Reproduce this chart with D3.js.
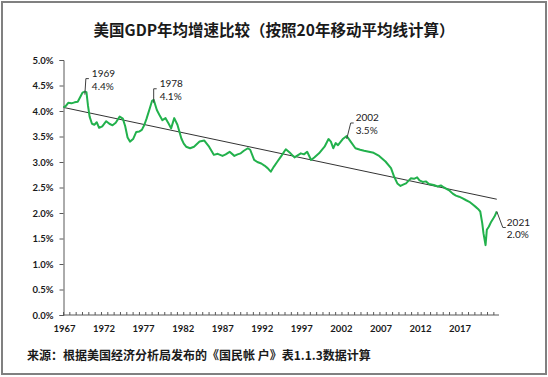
<!DOCTYPE html>
<html lang="zh">
<head>
<meta charset="UTF-8">
<title>美国GDP年均增速比较</title>
<script src="https://cdn.jsdelivr.net/npm/d3@7"></script>
<style>
  body { margin: 0; background: #fff; }
  svg text { fill: #1a1a1a; }
</style>
</head>
<body>
<script>
// 20年移动平均 GDP 年均增速（%）
const years = [1967.0,1967.3,1967.6,1968.0,1968.4,1968.8,1969.2,1969.4,1969.7,1969.9,1970.1,1970.3,1970.6,1970.9,1971.2,1971.5,1971.9,1972.4,1972.8,1973.2,1973.6,1974.1,1974.5,1974.8,1975.1,1975.4,1975.8,1976.2,1976.6,1976.9,1977.2,1977.5,1977.9,1978.2,1978.4,1978.8,1979.2,1979.5,1979.9,1980.3,1980.6,1981.0,1981.4,1981.9,1982.2,1982.5,1983.0,1983.5,1984.2,1984.8,1985.4,1986.0,1986.5,1987.1,1987.5,1988.0,1988.6,1989.0,1989.4,1989.8,1990.3,1990.6,1991.1,1991.5,1992.0,1992.4,1992.8,1993.2,1993.6,1994.0,1994.5,1995.1,1995.7,1996.2,1996.6,1997.0,1997.4,1997.8,1998.3,1998.7,1999.3,2000.0,2000.5,2000.8,2001.1,2001.4,2001.7,2002.3,2002.8,2003.3,2003.9,2004.5,2005.0,2005.6,2006.2,2006.9,2007.7,2008.4,2008.8,2009.2,2009.6,2010.0,2010.3,2010.9,2011.3,2011.7,2012.0,2012.4,2012.8,2013.2,2013.8,2014.3,2014.7,2015.1,2015.7,2016.2,2016.6,2017.0,2017.4,2017.9,2018.3,2018.7,2019.1,2019.4,2019.68,2019.93,2020.09,2020.35,2020.51,2020.76,2021.07,2021.48,2021.77];
const growth = [4.07,4.10,4.16,4.15,4.17,4.18,4.30,4.36,4.38,4.37,4.10,3.89,3.75,3.73,3.78,3.67,3.70,3.80,3.75,3.72,3.77,3.89,3.85,3.70,3.48,3.40,3.45,3.59,3.60,3.63,3.72,3.85,4.05,4.20,4.22,4.02,3.90,3.82,3.86,3.75,3.66,3.86,3.73,3.46,3.36,3.30,3.27,3.30,3.40,3.42,3.30,3.14,3.16,3.12,3.15,3.20,3.12,3.15,3.17,3.22,3.27,3.24,3.04,3.00,2.97,2.93,2.88,2.81,2.91,3.00,3.11,3.25,3.17,3.09,3.13,3.17,3.15,3.20,3.04,3.09,3.17,3.30,3.45,3.40,3.27,3.37,3.33,3.45,3.51,3.40,3.27,3.24,3.22,3.20,3.18,3.12,3.01,2.88,2.71,2.58,2.53,2.56,2.58,2.68,2.67,2.70,2.64,2.61,2.62,2.57,2.55,2.52,2.54,2.50,2.45,2.38,2.34,2.32,2.29,2.25,2.22,2.17,2.12,2.08,2.03,1.80,1.60,1.37,1.67,1.73,1.83,1.93,2.03];

// 线性趋势线端点
const trendYears = [1967.0, 2021.77];
const trendValues = [4.07, 2.27];

// 标注
const noteYears = [1969.7, 1978.4, 2002.8, 2021.77];
const noteLabels = ["1969", "1978", "2002", "2021"];
const noteValues = ["4.4%", "4.1%", "3.5%", "2.0%"];

const yTicks = [0, 0.5, 1, 1.5, 2, 2.5, 3, 3.5, 4, 4.5, 5];
const xLabels = [1967, 1972, 1977, 1982, 1987, 1992, 1997, 2002, 2007, 2012, 2017];

const W = 548, H = 377;
const svg = d3.select("body").append("svg").attr("width", W).attr("height", H);

// 外框
svg.append("rect")
  .attr("x", 2).attr("y", 2).attr("width", W - 4).attr("height", H - 5)
  .attr("fill", "#fff").attr("stroke", "#808080").attr("stroke-width", 2);

svg.append("text")
  .attr("x", 274).attr("y", 36)
  .attr("text-anchor", "middle")
  .style("font-family", "'Noto Sans CJK SC'")
  .style("font-weight", 700)
  .style("font-size", "15.5px")
  .text("美国GDP年均增速比较（按照20年移动平均线计算）");

const x = d3.scaleLinear().domain([1967, 2022.05]).range([63.5, 499]);
const y = d3.scaleLinear().domain([0, 5]).range([315, 60]);

const lab = "Lato, 'Open Sans', sans-serif";

// y 轴
const gy = svg.append("g").attr("transform", "translate(63.5,0)")
  .call(d3.axisLeft(y).tickValues(yTicks).tickSize(4).tickPadding(6).tickFormat(d => d.toFixed(1) + "%"));
gy.select(".domain").attr("stroke", "#595959");
gy.selectAll(".tick line").attr("stroke", "#595959");
gy.selectAll("text").style("font-family", lab).style("font-weight", 700).style("font-size", "9.5px").attr("fill", "#1a1a1a");

// x 轴：小刻度朝内
const minor = d3.range(1967, 2022.1, 0.8);
const gx = svg.append("g").attr("transform", "translate(0,315)");
gx.append("line").attr("x1", x(1967)).attr("x2", x(2022.05)).attr("stroke", "#595959");
gx.selectAll(".mt").data(minor).enter().append("line")
  .attr("x1", d => x(d)).attr("x2", d => x(d)).attr("y1", 0).attr("y2", -3)
  .attr("stroke", "#595959");
gx.selectAll(".xl").data(xLabels).enter().append("text")
  .attr("x", d => x(d) + 1).attr("y", 17)
  .attr("text-anchor", "middle")
  .style("font-family", lab).style("font-weight", 700).style("font-size", "9.5px")
  .text(d => d);

// 趋势线
svg.append("line")
  .attr("x1", x(trendYears[0])).attr("y1", y(trendValues[0]))
  .attr("x2", x(trendYears[1])).attr("y2", y(trendValues[1]))
  .attr("stroke", "#333").attr("stroke-width", 1);

// 主线
const pts = years.map((d, i) => [d, growth[i]]);
svg.append("path")
  .datum(pts)
  .attr("fill", "none")
  .attr("stroke", "#22b14c")
  .attr("stroke-width", 2)
  .attr("stroke-linejoin", "round")
  .attr("d", d3.line().x(d => x(d[0])).y(d => y(d[1])));

// 标注与引线（相对数据点的偏移）
const offs = [
  { dx: 1, top: -14, tx: 6 },
  { dx: 0, top: -12, tx: 6 },
  { dx: 4, top: -14, tx: 5 },
  { dx: 6, top: 16, tx: 4 }
];
noteYears.forEach((yr, i) => {
  const v = growth[years.indexOf(yr)];
  const px = x(yr), py = y(v) + (i === 3 ? 0 : 1);
  const o = offs[i];
  const ex = px + o.dx, ey = py + o.top;
  svg.append("polyline")
    .attr("points", [[px, py + (i === 3 ? 0 : 2)], [ex, ey], [ex + 3, ey]].map(p => p.join(",")).join(" "))
    .attr("fill", "none").attr("stroke", "#404040").attr("stroke-width", 1);
  const tx = ex + o.tx;
  const cy = ey - 5;
  svg.append("text").attr("x", tx).attr("y", cy + 3.5)
    .style("font-family", lab).style("font-size", "10px").text(noteLabels[i]);
  svg.append("text").attr("x", tx).attr("y", cy + 16)
    .style("font-family", lab).style("font-size", "10px").text(noteValues[i]);
});

svg.append("text")
  .attr("x", 27).attr("y", 360)
  .style("font-family", "'Noto Sans CJK SC'")
  .style("font-weight", 700)
  .style("font-size", "12px")
  .text("来源：根据美国经济分析局发布的《国民帐 户》表1.1.3数据计算");
</script>
</body>
</html>
